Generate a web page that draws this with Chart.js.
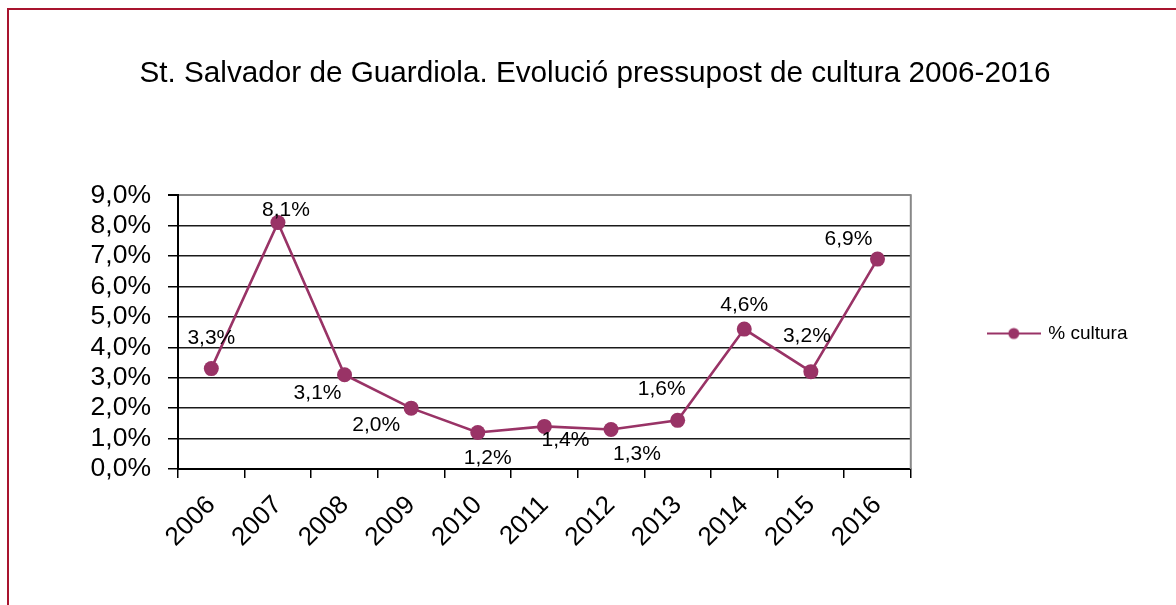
<!DOCTYPE html>
<html><head><meta charset="utf-8">
<script src="https://cdn.jsdelivr.net/npm/chart.js@4/dist/chart.umd.min.js"></script>
<style>
html,body{margin:0;padding:0;background:#fff;}
#wrap{position:relative;width:1176px;height:605px;overflow:hidden;}
#frame{position:absolute;left:7px;top:8px;width:1300px;height:700px;border-top:2px solid #a8142e;border-left:2px solid #a8142e;}
canvas{position:absolute;left:0;top:0;}
</style></head><body>
<div id="wrap"><div id="frame"></div><canvas id="c" width="1176" height="605"></canvas></div>
<script>
const years = ['2006','2007','2008','2009','2010','2011','2012','2013','2014','2015','2016'];
const cultura = [3.3, 8.1, 3.1, 2.0, 1.2, 1.4, 1.3, 1.6, 4.6, 3.2, 6.9];
const seriesName = '% cultura';
const titleText = 'St. Salvador de Guardiola. Evolució pressupost de cultura 2006-2016';
// label offsets (style): [dx, dy] from each point centre
const labelOffsets = [[0,-30],[8,-12],[-27,18],[-35,17],[10,26],[21,14],[26,25],[-16,-31],[0,-24],[-4,-35],[-29,-20]];

const COLOR = '#993366';
const FONT = '"Liberation Sans", Arial, Helvetica, sans-serif';
Chart.defaults.font.family = FONT;
Chart.defaults.color = '#000';

const fmt = v => v.toFixed(1).replace('.', ',') + '%';

const legendIcon = document.createElement('canvas');
legendIcon.width = 54; legendIcon.height = 14;
(function(){
  const g = legendIcon.getContext('2d');
  g.strokeStyle = COLOR; g.lineWidth = 2;
  g.beginPath(); g.moveTo(0,7); g.lineTo(54,7); g.stroke();
  g.fillStyle = COLOR; g.beginPath(); g.arc(27,7,5.5,0,Math.PI*2); g.fill();
})();

const framePlugin = {
  id: 'frameRight',
  beforeDatasetsDraw(chart){
    const {ctx, chartArea:a} = chart;
    ctx.save();
    ctx.strokeStyle = '#888'; ctx.lineWidth = 2;
    ctx.beginPath(); ctx.moveTo(a.right, a.top - 1); ctx.lineTo(a.right, a.bottom); ctx.stroke();
    ctx.restore();
  }
};

const labelPlugin = {
  id: 'valueLabels',
  afterDatasetsDraw(chart){
    const meta = chart.getDatasetMeta(0);
    const ctx = chart.ctx;
    ctx.save();
    ctx.font = '21px ' + FONT;
    ctx.fillStyle = '#000';
    ctx.textAlign = 'center';
    ctx.textBaseline = 'middle';
    meta.data.forEach((pt, i) => {
      const [dx, dy] = labelOffsets[i];
      ctx.fillText(fmt(cultura[i]), pt.x + dx, pt.y + dy);
    });
    ctx.restore();
  }
};

new Chart(document.getElementById('c'), {
  type: 'line',
  data: {
    labels: years,
    datasets: [{
      label: seriesName,
      data: cultura,
      borderColor: COLOR,
      backgroundColor: COLOR,
      borderWidth: 2.6,
      pointRadius: 7.5,
      pointBackgroundColor: COLOR,
      pointBorderWidth: 0,
      tension: 0,
      fill: false
    }]
  },
  options: {
    responsive: false,
    animation: false,
    devicePixelRatio: 1,
    layout: { padding: { left: 52.5, right: 38.5, top: 0, bottom: 0 } },
    plugins: {
      title: {
        display: true, text: titleText, color: '#000',
        font: { size: 29.7, weight: 'normal' },
        padding: { top: 56, bottom: 103.6 }
      },
      legend: {
        position: 'right',
        title: { display: true, text: ' ', font: { size: 10 }, padding: { top: 25, bottom: 25 } },
        labels: {
          usePointStyle: true, pointStyle: legendIcon, pointStyleWidth: 50,
          padding: 78, font: { size: 19 }, color: '#000'
        }
      },
      tooltip: { enabled: false }
    },
    scales: {
      x: {
        offset: true,
        grid: { offset: true, drawOnChartArea: false, drawTicks: true, tickLength: 9, color: '#000', tickColor: '#000', lineWidth: 1.5 },
        border: { color: '#000', width: 2 },
        ticks: { minRotation: 45, maxRotation: 45, autoSkip: false, padding: 12, font: { size: 26 }, color: '#000' },
        afterFit(s){ s.height = 136; }
      },
      y: {
        min: 0, max: 9,
        ticks: { stepSize: 1, autoSkip: false, padding: 17, font: { size: 26.5 }, color: '#000', callback: v => fmt(v) },
        grid: { color: c => (c.tick && c.tick.value === 9) ? '#888' : '#1a1a1a', tickColor: '#000', lineWidth: c => (c.tick && c.tick.value === 9) ? 2 : 1.5, tickLength: 10 },
        border: { color: '#000', width: 2 },
        afterFit(s){ s.width = 125.5; }
      }
    }
  },
  plugins: [framePlugin, labelPlugin]
});
</script>
</body></html>
